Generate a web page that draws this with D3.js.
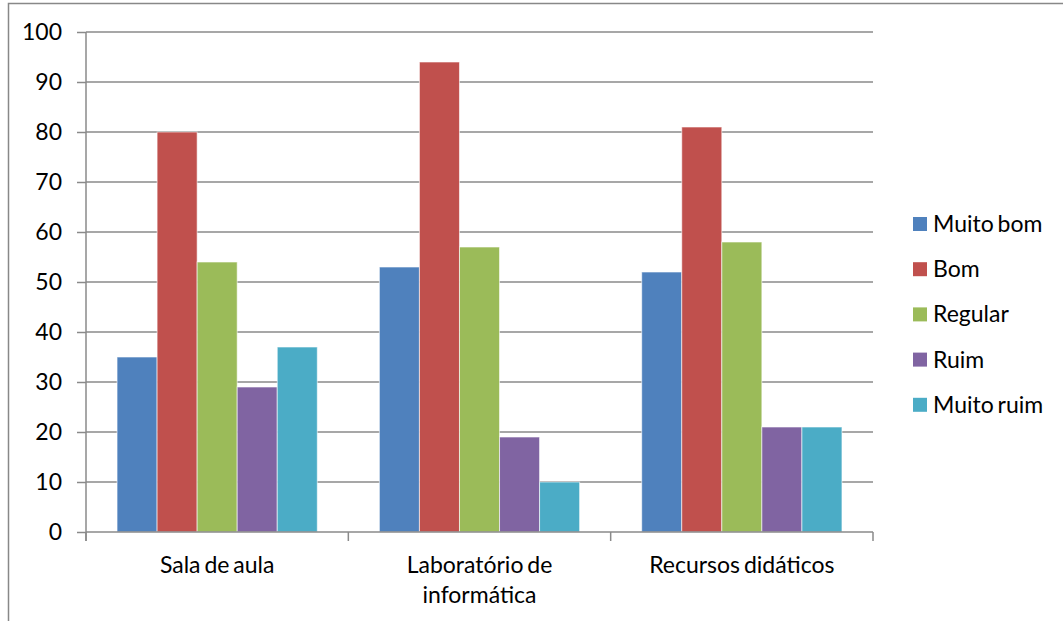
<!DOCTYPE html>
<html><head><meta charset="utf-8">
<script src="https://cdn.jsdelivr.net/npm/d3@7"></script>
<style>body{margin:0;background:#fff}svg{display:block}text{font-family:Lato,"Open Sans",sans-serif;fill:#000}</style>
</head><body>
<svg id="c" width="1063" height="621"></svg>
<script>
const categories = [["Sala de aula"], ["Laboratório de", "informática"], ["Recursos didáticos"]];
const series = ["Muito bom", "Bom", "Regular", "Ruim", "Muito ruim"];
const colors = ["#4F81BD", "#C0504D", "#9BBB59", "#8064A2", "#4BACC6"];
const muitoBom = [35, 53, 52];
const bom = [80, 94, 81];
const regular = [54, 57, 58];
const ruim = [29, 19, 21];
const muitoRuim = [37, 10, 21];
const yTicks = [0, 10, 20, 30, 40, 50, 60, 70, 80, 90, 100];

const values = [muitoBom, bom, regular, ruim, muitoRuim];
const svg = d3.select("#c");
svg.append("rect").attr("x", 8.5).attr("y", 3.5).attr("width", 1100).attr("height", 700)
  .attr("fill", "none").attr("stroke", "#888").attr("stroke-width", 1.5);

const L = 86, R = 873, T = 32, B = 532;
const x0 = d3.scaleBand().domain(d3.range(categories.length)).range([L, R]).paddingInner(0).paddingOuter(0);
const x1 = d3.scaleBand().domain(d3.range(series.length)).range([0, x0.bandwidth()]).paddingOuter(0.775).paddingInner(0);
const y = d3.scaleLinear().domain([0, 100]).range([B, T]);

// gridlines
svg.append("g").selectAll("line").data(yTicks.filter(d => d > 0)).join("line")
  .attr("x1", L).attr("x2", R).attr("y1", d => y(d)).attr("y2", d => y(d))
  .attr("stroke", "#8a8a8a").attr("stroke-width", 1.5);

// bars
const g = svg.append("g");
categories.forEach((c, ci) => {
  series.forEach((s, si) => {
    g.append("rect")
      .attr("x", x0(ci) + x1(si)).attr("width", x1.bandwidth())
      .attr("y", y(values[si][ci])).attr("height", B - y(values[si][ci]))
      .attr("fill", colors[si]).attr("stroke", "#fff").attr("stroke-opacity", 0.6).attr("stroke-width", 1);
  });
});

// y axis
const ya = svg.append("g").attr("transform", `translate(${L},0)`)
  .call(d3.axisLeft(y).tickValues(yTicks).tickSize(9).tickPadding(15).tickFormat(d3.format("d")));
ya.select(".domain").remove();
ya.selectAll("line").attr("stroke", "#8a8a8a").attr("stroke-width", 1.5);
ya.selectAll("text").attr("font-size", 23).style("font-family", "Lato, sans-serif").attr("fill", "#000");
svg.append("line").attr("x1", L).attr("x2", L).attr("y1", T).attr("y2", B + 9)
  .attr("stroke", "#8a8a8a").attr("stroke-width", 1.5);

// x axis
svg.append("line").attr("x1", L).attr("x2", R).attr("y1", B).attr("y2", B).attr("stroke", "#8a8a8a").attr("stroke-width", 1.5);
svg.append("g").selectAll("line").data(d3.range(categories.length + 1)).join("line")
  .attr("x1", d => L + d * x0.bandwidth()).attr("x2", d => L + d * x0.bandwidth())
  .attr("y1", B).attr("y2", B + 9).attr("stroke", "#8a8a8a").attr("stroke-width", 1.5);
categories.forEach((c, ci) => {
  const t = svg.append("text").attr("x", x0(ci) + x0.bandwidth() / 2).attr("y", 573)
    .attr("text-anchor", "middle").attr("font-size", 23).attr("word-spacing", -2);
  c.forEach((line, li) => t.append("tspan").attr("x", x0(ci) + x0.bandwidth() / 2).attr("dy", li ? 30 : 0).text(line));
});

// legend
const lg = svg.append("g");
series.forEach((s, i) => {
  const yy = 224 + i * 45.2;
  lg.append("rect").attr("x", 913).attr("y", yy - 7).attr("width", 14).attr("height", 14).attr("fill", colors[i]);
  lg.append("text").attr("x", 933).attr("y", yy + 8).attr("font-size", 23).attr("word-spacing", -2).text(s);
});
</script>
</body></html>
